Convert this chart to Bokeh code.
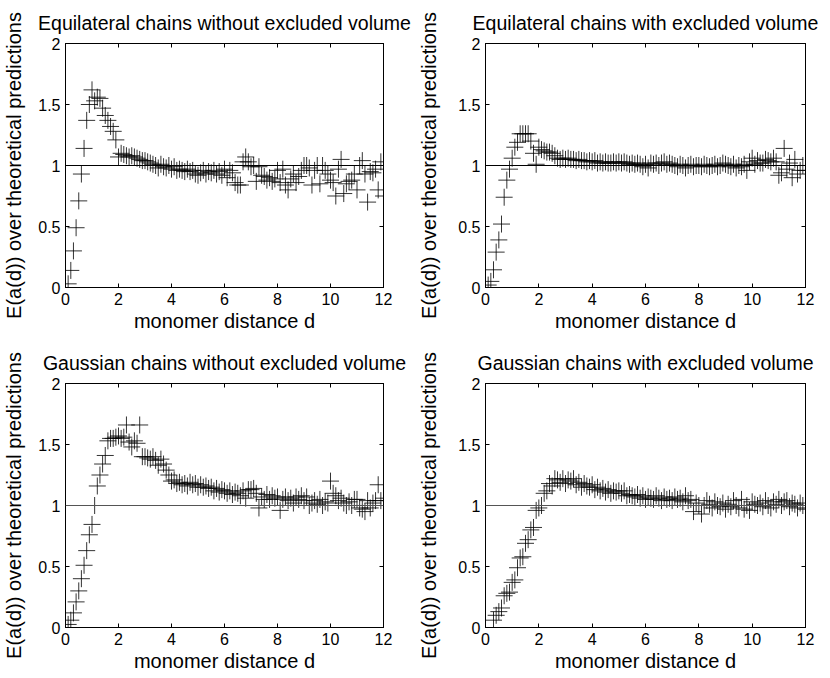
from bokeh.plotting import figure
from bokeh.layouts import gridplot
from bokeh.models import Range1d, FixedTicker, LinearAxis, Span, ColumnDataSource
from bokeh.embed import file_html
from bokeh.resources import INLINE

nan = float("nan")

# monomer distance bins d
D = [round(0.1 * k, 1) for k in range(1, 121)]

TITLES = [
    "Equilateral chains without excluded volume",
    "Equilateral chains with excluded volume",
    "Gaussian chains without excluded volume",
    "Gaussian chains with excluded volume",
]
XLABEL = "monomer distance d"
YLABEL = "E(a(d)) over theoretical predictions"
XTICKS = [0, 2, 4, 6, 8, 10, 12]
XTICK_LABELS = ["0", "2", "4", "6", "8", "10", "12"]
YTICKS = [0, 0.5, 1, 1.5, 2]
YTICK_LABELS = ["0", "0.5", "1", "1.5", "2"]
REFERENCE = 1.0

eq_free = [
    0.03, 0.14, 0.30, 0.49, 0.71, 0.93, 1.14, 1.37, 1.50, 1.62,
    1.53, 1.56, 1.55, 1.47, 1.41, 1.37, 1.32, 1.28, 1.21, 1.07,
    1.10, 1.09, 1.08, 1.07, 1.08, 1.07, 1.06, 1.05, 1.04, 1.04,
    1.03, 1.02, 1.01, 1.00, 0.98, 1.01, 0.99, 0.98, 1.00, 0.97,
    0.99, 0.96, 0.97, 0.96, 0.95, 0.97, 0.95, 0.96, 0.93, 0.92,
    0.94, 0.96, 0.93, 0.95, 0.94, 0.96, 0.93, 0.95, 0.92, 0.97,
    0.90, 0.96, 0.94, 0.86, 0.84, 0.84, 1.03, 1.07, 1.03, 0.99,
    1.00, 0.87, 0.99, 0.92, 0.91, 0.88, 0.90, 0.87, 0.89, 0.96,
    0.86, 0.97, 0.84, 0.80, 0.89, 0.93, 0.86, 0.91, 0.96, 1.00,
    1.00, 0.98, 0.84, 0.96, 1.00, 0.85, 1.00, 0.96, 0.93, 0.88,
    0.86, 0.75, 0.97, 1.05, 0.77, 0.85, 0.87, 0.88, 0.93, 0.80,
    1.00, 1.04, 0.93, 0.70, 0.95, 0.94, 0.97, 0.80, 1.03, 0.75,
]
eq_ev = [
    0.02, 0.05, 0.145, 0.29, 0.39, 0.52, 0.74, 0.88, 0.97, 1.06,
    1.15, 1.19, 1.26, 1.26, 1.26, 1.26, 1.20, 1.10, 1.01, 1.15,
    1.13, 1.12, 1.11, 1.11, 1.10, 1.08, 1.06, 1.05, 1.06, 1.05,
    1.06, 1.05, 1.05, 1.04, 1.05, 1.04, 1.04, 1.03, 1.04, 1.03,
    1.04, 1.02, 1.03, 1.02, 1.03, 1.02, 1.02, 1.03, 1.02, 1.03,
    1.02, 1.03, 1.02, 1.01, 1.02, 1.01, 1.02, 1.01, 0.99, 1.01,
    0.98, 1.02, 1.01, 1.02, 1.00, 1.02, 1.03, 1.01, 1.02, 1.01,
    1.00, 0.99, 1.01, 1.00, 0.98, 1.00, 1.01, 0.99, 1.00, 1.00,
    0.99, 1.01, 1.00, 0.99, 1.00, 1.01, 0.99, 1.00, 1.02, 1.01,
    1.00, 0.99, 1.01, 0.98, 1.00, 0.99, 1.01, 0.96, 1.03, 1.06,
    1.01, 1.04, 1.02, 1.02, 1.05, 1.04, 1.03, 1.06, 1.03, 0.92,
    0.94, 1.14, 0.97, 1.02, 0.90, 1.05, 0.93, 0.96, 1.00, 0.96,
]
ga_free = [
    0.025, 0.06, 0.12, 0.21, 0.30, 0.40, 0.51, 0.63, 0.76, 0.845,
    1.00, 1.16, 1.25, 1.34, 1.41, 1.53, 1.55, 1.55, 1.56, 1.57,
    1.55, 1.56, 1.66, 1.52, 1.48, 1.53, 1.51, 1.66, 1.40, 1.40,
    1.39, 1.38, 1.40, 1.37, 1.33, 1.38, 1.34, 1.29, 1.25, 1.20,
    1.21, 1.18, 1.19, 1.17, 1.18, 1.16, 1.19, 1.17, 1.18, 1.15,
    1.17, 1.15, 1.16, 1.14, 1.15, 1.12, 1.14, 1.11, 1.13, 1.12,
    1.10, 1.12, 1.09, 1.11, 1.10, 1.08, 1.12, 1.06, 1.13, 1.13,
    1.14, 1.10, 0.98, 1.07, 1.05, 1.09, 1.05, 1.08, 1.06, 1.07,
    0.96, 1.05, 1.07, 1.04, 1.06, 1.02, 1.07, 1.05, 1.08, 1.04,
    1.07, 1.00, 1.02, 1.04, 1.01, 1.05, 1.00, 1.03, 1.02, 1.20,
    1.10, 1.08, 1.04, 1.06, 1.02, 1.00, 1.03, 1.00, 1.05, 1.05,
    0.98, 0.97, 0.95, 1.04, 0.98, 1.02, 1.04, 1.17, 1.04, 1.06,
]
ga_ev = [
    nan, nan, 0.06, 0.10, 0.13, 0.16, 0.26, 0.28, 0.29, 0.37,
    0.39, 0.49, 0.57, 0.58, 0.69, 0.72, 0.80, 0.82, 0.96, 0.98,
    1.00, 1.10, 1.12, 1.18, 1.16, 1.22, 1.21, 1.19, 1.22, 1.18,
    1.21, 1.20, 1.22, 1.17, 1.19, 1.15, 1.18, 1.16, 1.15, 1.17,
    1.13, 1.15, 1.12, 1.14, 1.11, 1.13, 1.10, 1.12, 1.11, 1.12,
    1.10, 1.12, 1.08, 1.09, 1.08, 1.07, 1.09, 1.06, 1.08, 1.05,
    1.07, 1.06, 1.05, 1.08, 1.06, 1.04, 1.07, 1.05, 1.06, 1.04,
    1.07, 1.05, 1.06, 1.03, 1.08, 1.04, 1.05, 0.95, 1.02, 1.00,
    0.93, 1.00, 1.04, 1.01, 0.98, 1.03, 1.00, 0.99, 1.02, 0.97,
    1.01, 0.99, 1.04, 1.00, 0.98, 1.05, 0.97, 1.00, 0.96, 1.03,
    1.01, 1.00, 1.02, 0.99, 1.04, 1.00, 0.98, 1.03, 1.01, 1.05,
    1.00, 1.03, 1.04, 0.99, 1.02, 1.01, 0.98, 1.02, 1.00, 0.97,
]
SERIES = [eq_free, eq_ev, ga_free, ga_ev]

FONT = "Liberation Sans"

# per panel layout: (min_border_left, right, top, bottom, ylabel standoff, span colour)
LAYOUT = [
    (63, 32, 43, 52, 10, "black"),
    (69, 25, 43, 52, 15, "black"),
    (63, 32, 44, 51, 10, "#555555"),
    (69, 25, 44, 51, 15, "#555555"),
]


def make_panel(title, ys, lay):
    left, right, top, bottom, ystand, spancol = lay
    p = figure(width=415, height=339, output_backend="svg", toolbar_location=None,
               x_range=Range1d(0, 12), y_range=Range1d(0, 2),
               min_border_left=left, min_border_right=right,
               min_border_top=top, min_border_bottom=bottom,
               x_axis_label=XLABEL, y_axis_label=YLABEL)
    p.title.text = title
    p.title.align = "center"
    p.title.text_font = FONT
    p.title.text_font_size = "19.5px"
    p.title.text_font_style = "normal"
    p.title.text_color = "black"
    p.title.standoff = 19
    p.grid.visible = False
    p.outline_line_color = "black"
    p.outline_line_width = 1
    p.background_fill_color = "white"
    p.border_fill_color = "white"

    xo = {float(t): l for t, l in zip(XTICKS, XTICK_LABELS)}
    yo = {float(t): l for t, l in zip(YTICKS, YTICK_LABELS)}
    for ax, ticks, ov in ((p.xaxis[0], XTICKS, xo), (p.yaxis[0], YTICKS, yo)):
        ax.ticker = FixedTicker(ticks=ticks)
        ax.major_label_overrides = ov
        ax.minor_tick_line_color = None
        ax.major_tick_in = 4
        ax.major_tick_out = 0
        ax.axis_line_color = "black"
        ax.major_tick_line_color = "black"
        ax.major_label_text_font = FONT
        ax.major_label_text_font_size = "16px"
        ax.major_label_text_color = "black"
        ax.axis_label_text_font = FONT
        ax.axis_label_text_font_size = "20px"
        ax.axis_label_text_font_style = "normal"
        ax.axis_label_text_color = "black"
        ax.major_label_standoff = 5
    p.xaxis[0].axis_label_standoff = 2
    p.yaxis[0].axis_label_standoff = ystand

    # box ticks on top and right
    for loc, ticks in (("above", XTICKS), ("right", YTICKS)):
        ax = LinearAxis(ticker=FixedTicker(ticks=ticks),
                        major_label_overrides={float(t): "" for t in ticks},
                        major_tick_in=4, major_tick_out=0, minor_tick_line_color=None,
                        major_label_standoff=0, axis_line_color="black",
                        major_tick_line_color="black")
        p.add_layout(ax, loc)

    p.add_layout(Span(location=REFERENCE, dimension="width", line_color=spancol, line_width=1))

    src = ColumnDataSource(dict(d=D, y=ys))
    p.scatter("d", "y", source=src, marker="cross", size=17, line_color="black",
              line_width=1, line_alpha=0.8)
    return p


panels = [make_panel(t, s, l) for t, s, l in zip(TITLES, SERIES, LAYOUT)]
grid = gridplot([[panels[0], panels[1]], [panels[2], panels[3]]], toolbar_location=None)

open("out.html", "w").write(file_html(grid, INLINE))
